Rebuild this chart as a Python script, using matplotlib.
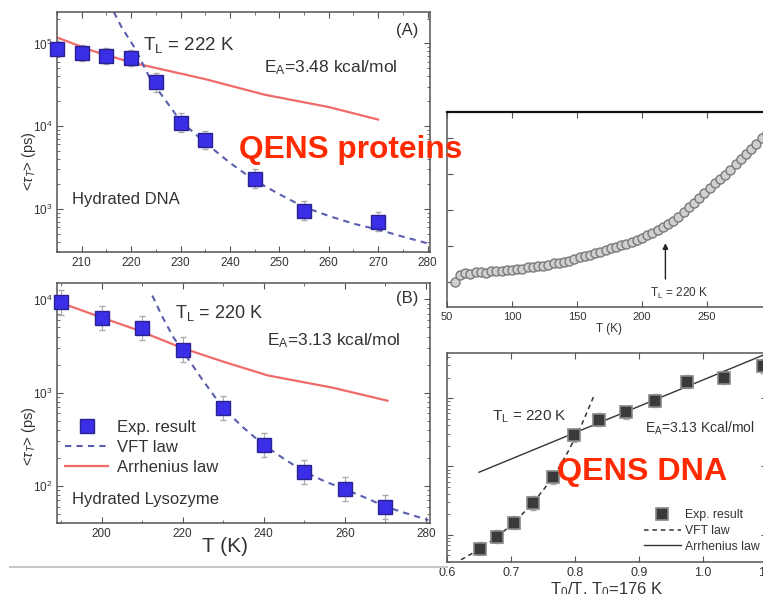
import matplotlib
matplotlib.use('Agg')
import matplotlib.pyplot as plt
import numpy as np
from matplotlib.lines import Line2D
from matplotlib.ticker import MultipleLocator, NullFormatter, FormatStrFormatter

plt.rcParams['font.family'] = ['Liberation Sans', 'DejaVu Sans']
plt.rcParams['mathtext.fontset'] = 'custom'
plt.rcParams['mathtext.rm'] = 'Liberation Sans'
plt.rcParams['mathtext.it'] = 'Liberation Sans:italic'

# (A) hydrated DNA
T_dna = [205, 210, 215, 220, 225, 230, 235, 245, 255, 270]
tau_dna = [8.6e4, 7.6e4, 7.0e4, 6.7e4, 3.4e4, 1.1e4, 6.8e3, 2.3e3, 950, 700]
err_dna = [0.25, 0.25, 0.25, 0.25, 0.3, 0.3, 0.3, 0.3, 0.3, 0.3]
T_vft_dna = [216.5, 218, 220.7, 224, 230, 235, 240, 245, 250, 255, 260, 265, 270, 275, 280.5]
tau_vft_dna = [2.4e5, 1.6e5, 8.9e4, 3.6e4, 1.15e4, 6.3e3, 3.6e3, 2.2e3, 1.5e3, 1.05e3, 820, 660, 560, 460, 375]
T_arr_dna = [205, 212, 220, 235, 247, 260, 270]
tau_arr_dna = [1.18e5, 8.2e4, 5.9e4, 3.7e4, 2.4e4, 1.7e4, 1.2e4]

# (B) hydrated lysozyme
T_lys = [190, 200, 210, 220, 230, 240, 250, 260, 270]
tau_lys = [9.3e3, 6.3e3, 4.9e3, 2.9e3, 680, 275, 142, 93, 59]
err_lys = [0.35, 0.35, 0.35, 0.35, 0.35, 0.35, 0.35, 0.35, 0.35]
T_vft_lys = [212.5, 215, 217.6, 220, 225, 230, 235, 240, 245, 250, 255, 260, 265, 270, 275, 280.6]
tau_vft_lys = [1.1e4, 6.5e3, 4.0e3, 2.8e3, 1.35e3, 680, 420, 275, 195, 142, 112, 92, 75, 60, 51, 43]
T_arr_lys = [189, 200, 208.8, 220, 230, 241, 257, 270.5]
tau_arr_lys = [9.5e3, 6.4e3, 4.7e3, 3.0e3, 2.15e3, 1.53e3, 1.13e3, 820]

# top right: T scan (arbitrary units)
T_scan = [56, 60, 64, 68, 72, 76, 80, 84, 88, 92, 96, 100, 104, 108, 112, 116, 120, 124,
          128, 132, 136, 140, 144, 148, 152, 156, 160, 164, 168, 172, 176, 180, 184, 188,
          192, 196, 200, 204, 208, 212, 216, 220, 224, 228, 232, 236, 240, 244, 248, 252,
          256, 260, 264, 268, 272, 276, 280, 284, 288, 292, 296]
y_scan = [1.00, 1.18, 1.24, 1.22, 1.26, 1.27, 1.25, 1.29, 1.30, 1.31, 1.33, 1.34, 1.36,
          1.37, 1.40, 1.41, 1.43, 1.45, 1.47, 1.52, 1.53, 1.56, 1.59, 1.63, 1.68, 1.71,
          1.75, 1.79, 1.83, 1.88, 1.93, 1.97, 2.01, 2.05, 2.10, 2.15, 2.22, 2.30, 2.36,
          2.43, 2.52, 2.60, 2.68, 2.80, 2.95, 3.08, 3.20, 3.33, 3.47, 3.60, 3.74, 3.86,
          3.98, 4.12, 4.27, 4.42, 4.55, 4.68, 4.84, 5.00, 5.15]

# bottom right: DNA vs T0/T
x_dna = [0.652, 0.678, 0.705, 0.734, 0.766, 0.798, 0.838, 0.880, 0.925, 0.975, 1.033, 1.094]
y_dna = [6.2, 9.3, 15, 29, 69, 286, 480, 620, 910, 1740, 2000, 2950]
x_vft = [0.622, 0.652, 0.678, 0.705, 0.734, 0.766, 0.790, 0.810, 0.830]
y_vft = [4.3, 6.2, 9.3, 15, 29, 69, 170, 400, 1100]
x_arr = [0.650, 1.11]
y_arr = [82, 4900]

blue = '#3a2ee6'
red = '#f06a6a'
vft_c = '#5a5eae'
txt = '#333333'
spine_c = '#555555'


def style(ax):
    for s in ax.spines.values():
        s.set_color(spine_c)
        s.set_linewidth(1.1)
    ax.tick_params(which='both', direction='in', top=True, right=True,
                   colors=spine_c, labelcolor=txt, labelsize=8.5)
    ax.tick_params(which='major', length=4)
    ax.tick_params(which='minor', length=2)


fig = plt.figure(figsize=(7.63, 5.94), dpi=100)

# ---- panel A
axA = fig.add_axes([57/763, 1-252/594, 373/763, 240/594])
axA.set_yscale('log')
lo = [v - v/(1+e) for v, e in zip(tau_dna, err_dna)]
hi = [v*e for v, e in zip(tau_dna, err_dna)]
axA.errorbar(T_dna, tau_dna, yerr=[lo, hi], fmt='none', ecolor='#aaaaaa', elinewidth=0.8, capsize=2)
axA.plot(T_arr_dna, tau_arr_dna, color=red, lw=1.6, zorder=2)
axA.plot(T_vft_dna, tau_vft_dna, color=vft_c, lw=1.5, ls=(0, (3, 2.5)), zorder=2)
axA.plot(T_dna, tau_dna, 's', ms=10, mfc=blue, mec='#2a2290', zorder=3, clip_on=False)
axA.set_xlim(205, 280.5)
axA.set_ylim(3e2, 2.4e5)
axA.xaxis.set_major_locator(MultipleLocator(10))
axA.xaxis.set_minor_locator(MultipleLocator(5))
style(axA)
axA.set_ylabel(r'<$\tau_T$> (ps)', fontsize=10.5, color=txt)
axA.yaxis.set_label_coords(-0.05, 0.38)
axA.text(0.23, 0.862, r'T$_\mathrm{L}$ = 222 K', transform=axA.transAxes, fontsize=13.5, color=txt, va='center')
axA.text(0.555, 0.767, r'E$_\mathrm{A}$=3.48 kcal/mol', transform=axA.transAxes, fontsize=12.5, color=txt, va='center')
axA.text(0.04, 0.217, 'Hydrated DNA', transform=axA.transAxes, fontsize=12, color=txt, va='center')
axA.text(0.91, 0.925, '(A)', transform=axA.transAxes, fontsize=12, color=txt, va='center')

# ---- panel B
axB = fig.add_axes([57/763, 1-523/594, 373/763, 240/594])
axB.set_yscale('log')
lo = [v - v/(1+e) for v, e in zip(tau_lys, err_lys)]
hi = [v*e for v, e in zip(tau_lys, err_lys)]
axB.errorbar(T_lys, tau_lys, yerr=[lo, hi], fmt='none', ecolor='#aaaaaa', elinewidth=0.8, capsize=2)
axB.plot(T_lys, tau_lys, 's', ms=10, mfc=blue, mec='#2a2290', zorder=3, label='Exp. result', clip_on=False)
axB.plot(T_vft_lys, tau_vft_lys, color=vft_c, lw=1.5, ls=(0, (3, 2.5)), zorder=2, label='VFT law')
axB.plot(T_arr_lys, tau_arr_lys, color=red, lw=1.6, zorder=2, label='Arrhenius law')
axB.set_xlim(189, 281)
axB.set_ylim(40, 1.5e4)
axB.xaxis.set_major_locator(MultipleLocator(20))
axB.xaxis.set_minor_locator(MultipleLocator(10))
style(axB)
axB.set_ylabel(r'<$\tau_T$> (ps)', fontsize=10.5, color=txt)
axB.yaxis.set_label_coords(-0.05, 0.36)
axB.set_xlabel('T (K)', fontsize=15, color=txt)
axB.xaxis.set_label_coords(0.45, -0.06)
axB.text(0.316, 0.875, r'T$_\mathrm{L}$ = 220 K', transform=axB.transAxes, fontsize=13, color=txt, va='center')
axB.text(0.562, 0.758, r'E$_\mathrm{A}$=3.13 kcal/mol', transform=axB.transAxes, fontsize=12.5, color=txt, va='center')
axB.text(0.04, 0.096, 'Hydrated Lysozyme', transform=axB.transAxes, fontsize=12, color=txt, va='center')
axB.text(0.91, 0.9375, '(B)', transform=axB.transAxes, fontsize=12, color=txt, va='center')
axB.legend(loc='upper left', bbox_to_anchor=(-0.005, 0.47), frameon=False, fontsize=12,
           handlelength=2.6, handletextpad=0.5, labelspacing=0.3, borderaxespad=0.2,
           labelcolor=txt)

# ---- top right panel
axC = fig.add_axes([447/763, 1-307/594, 325/763, 195/594])
axC.plot(T_scan, y_scan, 'o', ms=6.5, mfc='#d0d0d0', mec='#7a7a7a', mew=1.0)
axC.set_xlim(50, 300)
axC.set_ylim(0.3, 5.72)
axC.xaxis.set_major_locator(MultipleLocator(50))
axC.yaxis.set_major_locator(MultipleLocator(1))
style(axC)
axC.tick_params(labelsize=8)
axC.yaxis.set_major_formatter(NullFormatter())
axC.spines['top'].set_color('#111111')
axC.spines['top'].set_linewidth(1.6)
axC.set_xlabel('T (K)', fontsize=8.5, color=txt, labelpad=1)
axC.annotate('', xy=(218, 2.15), xytext=(218, 1.0),
             arrowprops=dict(arrowstyle='-|>', color='#222222', lw=1, mutation_scale=8))
axC.text(206, 0.68, r'T$_\mathrm{L}$ = 220 K', fontsize=8.5, color=txt, va='center')

# ---- bottom right panel
axD = fig.add_axes([447/763, 1-562/594, 320/763, 209/594])
axD.set_yscale('log')
axD.errorbar(x_dna, y_dna, yerr=[[v*0.2 for v in y_dna], [v*0.25 for v in y_dna]],
             fmt='none', ecolor='#aaaaaa', elinewidth=0.8, capsize=2)
axD.plot(x_dna, y_dna, 's', ms=8.5, mfc='#3a3a3a', mec='#888888', mew=1.2, zorder=3, label='Exp. result')
axD.plot(x_vft, y_vft, color='#333333', lw=1.1, ls=(0, (3, 2.5)), label='VFT law')
axD.plot(x_arr, y_arr, color='#333333', lw=1.0, label='Arrhenius law')
axD.set_xlim(0.6, 1.1)
axD.set_ylim(10**0.6, 10**3.66)
axD.xaxis.set_major_locator(MultipleLocator(0.1))
axD.xaxis.set_major_formatter(FormatStrFormatter('%.1f'))
style(axD)
axD.tick_params(labelsize=9)
axD.yaxis.set_major_formatter(NullFormatter())
axD.yaxis.set_minor_formatter(NullFormatter())
axD.set_xlabel(r'T$_0$/T, T$_0$=176 K', fontsize=12, color=txt, labelpad=1)
axD.text(0.14, 0.694, r'T$_\mathrm{L}$ = 220 K', transform=axD.transAxes, fontsize=11, color=txt, va='center')
axD.text(0.619, 0.641, r'E$_\mathrm{A}$=3.13 Kcal/mol', transform=axD.transAxes, fontsize=10, color=txt, va='center')
axD.legend(loc='upper left', bbox_to_anchor=(0.6, 0.275), frameon=False, fontsize=8.8,
           handlelength=3.0, handletextpad=0.4, labelspacing=0.3, borderaxespad=0.0,
           labelcolor=txt)

# separator line and overlay labels
fig.add_artist(Line2D([10/763, 447/763], [1-567/594, 1-567/594], color='#c8c8c8', lw=1.5))
fig.text(239/763, 1-158/594, 'QENS proteins', fontsize=22.8, fontweight='bold', color='#ff2a00', va='baseline')
fig.text(557/763, 1-480/594, 'QENS DNA', fontsize=23.2, fontweight='bold', color='#ff2a00', va='baseline')

fig.savefig('out.png', dpi=100)
